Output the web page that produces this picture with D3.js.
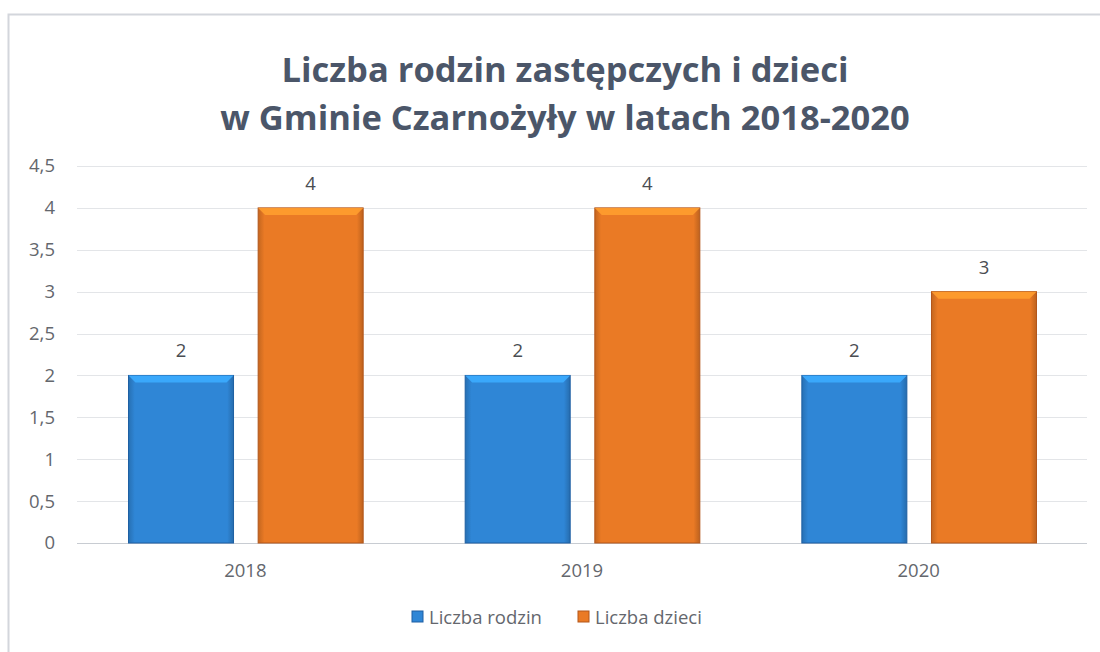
<!DOCTYPE html>
<html>
<head>
<meta charset="utf-8">
<script src="https://cdn.jsdelivr.net/npm/d3@7"></script>
<style>
  body { margin: 0; background: #fff; }
  svg { display: block; font-family: "Open Sans", Lato, sans-serif; }
</style>
</head>
<body>
<div id="chart"></div>
<script>
// chart data
let years = ["2018", "2019", "2020"];
let seriesNames = ["Liczba rodzin", "Liczba dzieci"];
let rodzin = [2, 2, 2];
let dzieci = [4, 4, 3];
let yTicks = [0, 0.5, 1, 1.5, 2, 2.5, 3, 3.5, 4, 4.5];
let titleLines = ["Liczba rodzin zastępczych i dzieci", "w Gminie Czarnożyły w latach 2018-2020"];

let width = 1100, height = 652;
let margin = {top: 166, right: 13, bottom: 109, left: 77};
let colors = ["#2f86d6", "#ea7a25"];
let edges = ["#1e5fa3", "#b3561a"];

let svg = d3.select("#chart")
    .append("svg")
    .attr("width", width)
    .attr("height", height);

// frame of the scanned chart (top and left only)
svg.append("path")
    .attr("d", `M8.5,${height} V14.5 H${width}`)
    .attr("fill", "none")
    .attr("stroke", "#d3d6dc")
    .attr("stroke-width", 2);

// title
svg.append("g").selectAll("text")
    .data(titleLines)
    .join("text")
    .attr("x", 565)
    .attr("y", (d, i) => 82 + i * 48)
    .attr("text-anchor", "middle")
    .style("font-size", "34.5px")
    .style("font-weight", "bold")
    .style("fill", "#4b5669")
    .text(d => d);

let plotW = width - margin.left - margin.right;
let plotH = height - margin.top - margin.bottom;

let g = svg.append("g")
    .attr("transform", `translate(${margin.left},${margin.top})`);

let y = d3.scaleLinear()
    .domain([0, 4.5])
    .range([plotH, 0]);

let x = d3.scaleBand()
    .domain(years)
    .range([0, plotW]);

let xInner = d3.scaleBand()
    .domain(seriesNames)
    .range([x.bandwidth() * 0.153, x.bandwidth() * 0.85])
    .paddingInner(0.19);

// gridlines
g.append("g")
    .selectAll("line")
    .data(yTicks)
    .join("line")
    .attr("x1", 0)
    .attr("x2", plotW)
    .attr("y1", d => Math.round(y(d)) + 0.5)
    .attr("y2", d => Math.round(y(d)) + 0.5)
    .attr("stroke", d => d === 0 ? "#c8ccd2" : "#e3e5e8")
    .attr("stroke-width", 1);

// y axis labels
let yAxis = g.append("g")
    .call(d3.axisLeft(y).tickValues(yTicks).tickSize(0).tickPadding(22)
        .tickFormat(d => String(d).replace(".", ",")));
yAxis.select(".domain").remove();
yAxis.selectAll("text")
    .style("font-size", "18.5px")
    .style("fill", "#64676d")
    .style("font-family", "\"Open Sans\", sans-serif");

// x axis labels
let xAxis = g.append("g")
    .attr("transform", `translate(0,${plotH})`)
    .call(d3.axisBottom(x).tickSize(0).tickPadding(21));
xAxis.select(".domain").remove();
xAxis.selectAll("text")
    .style("font-size", "18.5px")
    .style("fill", "#64676d")
    .style("font-family", "\"Open Sans\", sans-serif");

// gradients for a slight bevel look
let defs = svg.append("defs");
colors.forEach((c, i) => {
    let grad = defs.append("linearGradient")
        .attr("id", "grad" + i)
        .attr("x1", 0).attr("x2", 1).attr("y1", 0).attr("y2", 0);
    grad.append("stop").attr("offset", "0%").attr("stop-color", d3.color(c).darker(0.5));
    grad.append("stop").attr("offset", "6%").attr("stop-color", c);
    grad.append("stop").attr("offset", "94%").attr("stop-color", c);
    grad.append("stop").attr("offset", "100%").attr("stop-color", d3.color(c).darker(0.6));
});

let rows = years.map((yr, i) => ({year: yr, values: [rodzin[i], dzieci[i]]}));

let groups = g.append("g")
    .selectAll("g")
    .data(rows)
    .join("g")
    .attr("transform", d => `translate(${x(d.year)},0)`);

let bars = groups.selectAll("g.bar")
    .data(d => d.values.map((v, k) => ({name: seriesNames[k], value: v, k: k})))
    .join("g")
    .attr("class", "bar");

bars.append("rect")
    .attr("x", d => xInner(d.name))
    .attr("y", d => y(d.value))
    .attr("width", xInner.bandwidth())
    .attr("height", d => plotH - y(d.value))
    .attr("fill", d => `url(#grad${d.k})`)
    .attr("stroke", d => edges[d.k])
    .attr("stroke-width", 1);

// bevel top highlight
bars.append("path")
    .attr("d", d => {
        let x0 = xInner(d.name), x1 = x0 + xInner.bandwidth(), y0 = y(d.value);
        return `M${x0},${y0} H${x1} L${x1 - 7},${y0 + 7} H${x0 + 7} Z`;
    })
    .attr("fill", d => d3.color(colors[d.k]).brighter(0.7))
    .attr("opacity", 0.9);

// data labels
bars.append("text")
    .attr("x", d => xInner(d.name) + xInner.bandwidth() / 2)
    .attr("y", d => y(d.value) - 18)
    .attr("text-anchor", "middle")
    .style("font-size", "18.5px")
    .style("fill", "#4a4d52")
    .text(d => d.value);

// legend
let legend = svg.append("g")
    .attr("transform", "translate(0,624)");
let legX = [412, 578];
seriesNames.forEach((name, i) => {
    let item = legend.append("g").attr("transform", `translate(${legX[i]},0)`);
    item.append("rect")
        .attr("x", 0).attr("y", -13)
        .attr("width", 11).attr("height", 11)
        .attr("fill", colors[i])
        .attr("stroke", edges[i]);
    item.append("text")
        .attr("x", 17)
        .attr("y", 0)
        .style("font-size", "18.5px")
        .style("fill", "#64676d")
        .text(name);
});
</script>
</body>
</html>
